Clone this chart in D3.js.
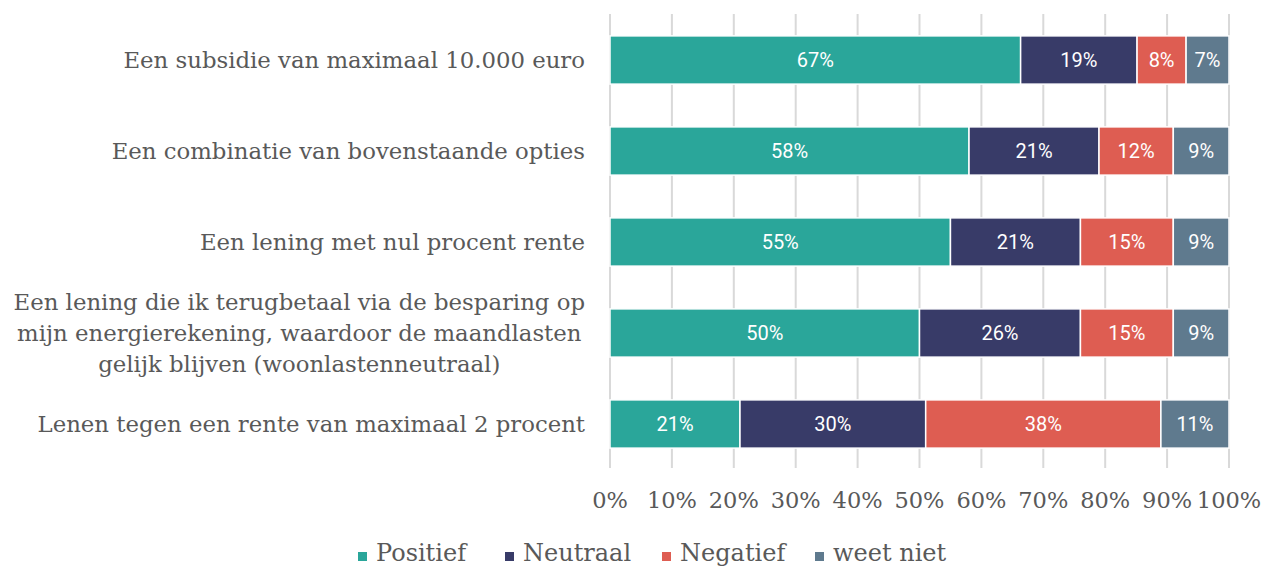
<!DOCTYPE html>
<html>
<head>
<meta charset="utf-8">
<script src="https://cdn.jsdelivr.net/npm/d3@7"></script>
<style>
  body { margin: 0; background: #fff; }
  svg { display: block; }
</style>
</head>
<body>
<div id="chart"></div>
<script>
// data
var categories = [
    ["Een subsidie van maximaal 10.000 euro"],
    ["Een combinatie van bovenstaande opties"],
    ["Een lening met nul procent rente"],
    ["Een lening die ik terugbetaal via de besparing op",
     "mijn energierekening, waardoor de maandlasten",
     "gelijk blijven (woonlastenneutraal)"],
    ["Lenen tegen een rente van maximaal 2 procent"]
];
var seriesNames = ["Positief", "Neutraal", "Negatief", "weet niet"];
var positief = [67, 58, 55, 50, 21],
    neutraal = [19, 21, 21, 26, 30],
    negatief = [8, 12, 15, 15, 38],
    weetNiet = [7, 9, 9, 9, 11];
var tickValues = [0, 0.1, 0.2, 0.3, 0.4, 0.5, 0.6, 0.7, 0.8, 0.9, 1];
var colors = ["#2aa69a", "#383b68", "#de5d52", "#5f7a8e"];

var w = 1264, h = 566;
var serif = "'DejaVu Serif', serif",
    sans = "Roboto, 'Noto Sans', sans-serif",
    grey = "#595959";

var rows = categories.map(function(c, i) {
    return {id: i, "Positief": positief[i], "Neutraal": neutraal[i],
            "Negatief": negatief[i], "weet niet": weetNiet[i]};
});

var svg = d3.select("#chart").append("svg")
    .attr("width", w)
    .attr("height", h);

var x = d3.scaleLinear().domain([0, 1]).range([610, 1229]);
var y = d3.scaleBand()
    .domain(rows.map(function(d) { return d.id; }))
    .range([14.5, 469.5])
    .paddingInner(0.47)
    .paddingOuter(0.235);

var color = d3.scaleOrdinal().domain(seriesNames).range(colors);

// gridlines
svg.append("g").selectAll("line")
    .data(tickValues)
    .enter().append("line")
    .attr("x1", function(d) { return x(d); })
    .attr("x2", function(d) { return x(d); })
    .attr("y1", 14)
    .attr("y2", 468)
    .attr("stroke", "#d9d9d9")
    .attr("stroke-width", 2);

// bars (100% stacked)
var stack = d3.stack().keys(seriesNames).offset(d3.stackOffsetExpand);
var layers = stack(rows);

var g = svg.append("g");
layers.forEach(function(layer) {
    var lg = g.append("g").attr("fill", color(layer.key));
    lg.selectAll("rect")
        .data(layer)
        .enter().append("rect")
        .attr("x", function(d) { return x(d[0]); })
        .attr("y", function(d) { return y(d.data.id); })
        .attr("width", function(d) { return x(d[1]) - x(d[0]); })
        .attr("height", y.bandwidth())
        .attr("stroke", "#fff")
        .attr("stroke-width", 1.5);
    lg.selectAll("text")
        .data(layer)
        .enter().append("text")
        .attr("x", function(d) { return (x(d[0]) + x(d[1])) / 2; })
        .attr("y", function(d) { return y(d.data.id) + y.bandwidth() / 2; })
        .attr("dy", "0.35em")
        .attr("text-anchor", "middle")
        .attr("fill", "#fff")
        .style("font-family", sans)
        .style("font-size", "20px")
        .text(function(d) { return d.data[layer.key] + "%"; });
});

// category labels
var labels = svg.append("g");
categories.forEach(function(lines, i) {
    var cy = y(i) + y.bandwidth() / 2;
    var lh = 31;
    var t = labels.append("text")
        .attr("fill", grey)
        .style("font-family", serif)
        .style("font-size", "22.8px");
    lines.forEach(function(line, j) {
        t.append("tspan")
            .attr("y", cy + (j - (lines.length - 1) / 2) * lh)
            .attr("dy", "0.35em")
            .text(line);
    });
    var maxW = 0;
    t.selectAll("tspan").each(function() {
        maxW = Math.max(maxW, this.getComputedTextLength());
    });
    if (lines.length == 1) {
        t.attr("text-anchor", "end");
        t.selectAll("tspan").attr("x", 585);
    } else {
        t.attr("text-anchor", "middle");
        t.selectAll("tspan").attr("x", 585 - maxW / 2);
    }
});

// x axis labels
svg.append("g").selectAll("text")
    .data(tickValues)
    .enter().append("text")
    .attr("x", function(d) { return x(d); })
    .attr("y", 500)
    .attr("dy", "0.35em")
    .attr("text-anchor", "middle")
    .attr("fill", grey)
    .style("font-family", serif)
    .style("font-size", "22.5px")
    .text(d3.format(".0%"));

// legend
var legendX = [358, 505, 662, 815];
var legend = svg.append("g").selectAll("g")
    .data(seriesNames)
    .enter().append("g")
    .attr("transform", function(d, i) { return "translate(" + legendX[i] + ",553)"; });
legend.append("rect")
    .attr("x", 0)
    .attr("y", -1)
    .attr("width", 9)
    .attr("height", 9)
    .attr("fill", function(d) { return color(d); });
legend.append("text")
    .attr("x", 18)
    .attr("y", 0)
    .attr("dy", "0.35em")
    .attr("fill", grey)
    .style("font-family", serif)
    .style("font-size", "24px")
    .text(function(d) { return d; });
</script>
</body>
</html>
